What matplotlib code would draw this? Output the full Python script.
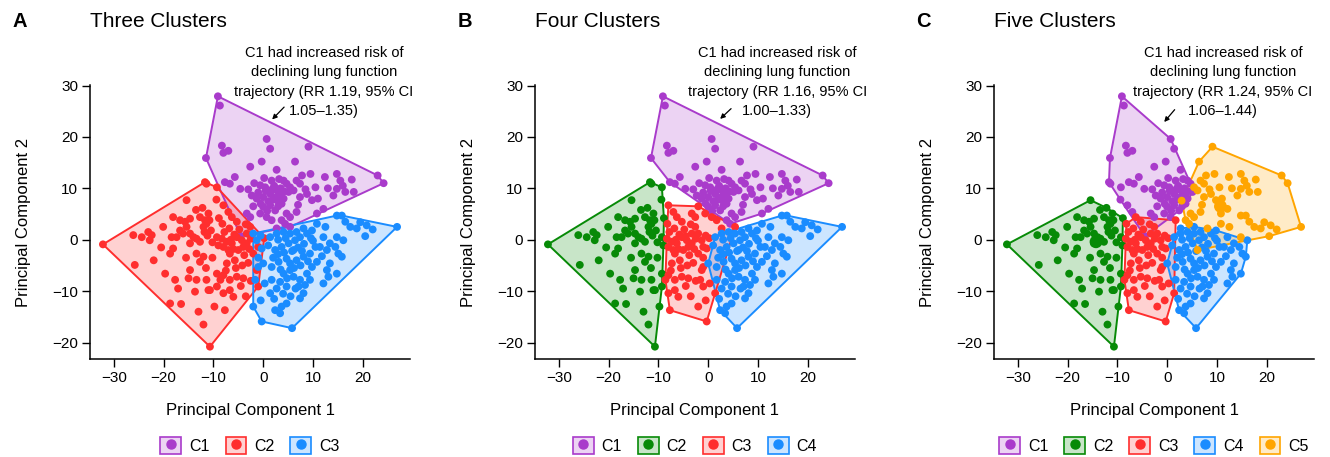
import matplotlib
matplotlib.use("Agg")
import matplotlib.pyplot as plt
from matplotlib.patches import Patch
from matplotlib.lines import Line2D
from matplotlib.legend_handler import HandlerTuple

plt.rcParams['font.family'] = ['Liberation Sans', 'DejaVu Sans']

# ---------------- data: PCA scores, grouped by cluster membership across solutions -------------
# group name letters = cluster colour in (3-, 4-, 5-cluster) solutions
PPP = [(-9.1, 27.9), (-8.7, 26.1), (-11.5, 15.9), (-8.3, 18.3), (-7.0, 17.3), (-8.0, 16.9), (0.7, 19.6),
       (1.4, 17.7), (-0.3, 15.2), (-2.6, 14.2), (2.7, 13.6), (-5.7, 12.2), (-7.7, 11.2), (-6.7, 10.9),
       (-4.6, 9.9), (-0.6, 10.6), (0.4, 10.2), (1.7, 11.5), (4.1, 11.5), (4.7, 10.9), (-2.3, 8.6),
       (-1.3, 8.0), (0.0, 8.3), (1.4, 8.9), (2.7, 9.6), (3.4, 8.6), (4.1, 8.0), (5.1, 9.3), (0.0, 6.4),
       (1.4, 6.7), (2.4, 5.7), (3.7, 7.0), (0.5, 9.5), (1.0, 7.5), (2.0, 7.8), (3.0, 6.5), (2.2, 10.5),
       (3.5, 10.0), (-1.0, 9.2), (-0.5, 7.0), (1.8, 9.8), (3.2, 11.8), (0.2, 12.0), (-1.8, 11.0),
       (2.5, 8.2), (4.2, 9.4), (-3.0, 9.8), (0.8, 5.6)]
PPO = [(9.1, 18.1), (6.4, 15.2), (12.4, 12.2), (14.8, 12.8), (15.5, 11.5), (17.8, 11.7), (23.0, 12.5),
       (24.2, 11.0), (14.8, 9.9), (16.5, 9.3), (18.2, 9.3), (14.1, 8.6), (5.4, 10.2), (6.1, 9.6),
       (6.7, 11.5), (7.4, 10.9), (7.4, 8.3), (8.8, 8.9), (9.8, 7.7), (12.1, 6.0), (10.8, 5.1), (4.7, 5.1),
       (5.4, 4.4), (6.7, 5.4), (3.7, 3.8), (4.4, 3.1), (2.9, 7.6), (7.8, 12.5), (8.5, 9.8), (10.5, 10.2),
       (9.5, 12.8), (11.0, 8.0), (16.0, 10.5), (13.0, 10.0), (7.0, 6.8)]
PRP = [(-0.6, 5.1), (0.7, 4.4), (-3.3, 5.1), (-2.6, 4.4), (-4.5, 0.7), (-2.0, 6.5)]
PRR = [(1.7, 3.8)]
PRB = [(2.7, 2.2), (5.4, 2.5)]
RGG = [(-32.2, -0.9), (-26.1, 0.9), (-24.4, 0.5), (-23.1, 1.5), (-22.4, 0.9), (-22.8, -0.1), (-25.8, -4.9),
       (-20.1, 2.5), (-19.7, -6.6), (-18.4, 0.5), (-18.1, -1.7), (-18.7, -2.7), (-17.7, -7.8), (-17.1, -9.5),
       (-18.7, -12.4), (-15.4, 7.7), (-14.7, 4.1), (-15.4, 2.5), (-16.1, 1.2), (-16.7, 1.8), (-14.7, 1.2),
       (-17.4, 0.5), (-14.7, -0.7), (-14.0, 0.5), (-13.4, 0.2), (-12.7, -0.4), (-12.0, 2.5), (-11.4, 3.1),
       (-11.0, 5.1), (-11.7, 3.8), (-12.7, 4.4), (-9.3, 0.5), (-9.0, -1.1), (-13.4, -2.7), (-12.0, -3.3),
       (-12.7, -4.3), (-14.7, -5.9), (-15.0, -7.5), (-13.4, -7.8), (-9.3, -6.6), (-11.4, -7.8),
       (-10.7, -9.8), (-9.3, -9.1), (-13.7, -10.1), (-11.0, -9.8), (-10.7, -20.8), (-18.1, 4.4),
       (-16.7, 3.8), (-15.7, 3.5), (-10.5, 1.8), (-11.2, 0.8), (-10.2, -0.5), (-11.8, 1.5), (-10.8, 3.8),
       (-12.2, 6.2), (-13.5, 5.8), (-10.2, -3.5), (-11.5, -5.5), (-15.5, -3.5), (-20.5, -1.5), (-22.0, -4.0),
       (-16.5, -12.5), (-13.0, -14.0), (-12.0, -16.5), (-8.9, 4.2), (-9.8, -13.0)]
RGP = [(-11.4, 10.9), (-11.7, 11.2), (-9.3, 10.2), (-9.4, 7.8)]
RRR = [(-6.3, 4.4), (-5.3, 3.5), (-8.3, 0.2), (-7.3, -0.4), (-6.3, -0.7), (-8.0, -1.4), (-5.3, 0.5),
       (-4.3, -0.1), (-3.3, -0.7), (-4.0, -1.4), (-5.0, -2.0), (-3.3, 1.2), (-2.6, 2.5), (-6.7, -2.7),
       (-5.7, -4.0), (-7.3, -4.6), (-8.0, -6.9), (-6.7, -7.8), (-5.3, -7.2), (-4.0, -7.5), (-8.0, -10.4),
       (-6.0, -11.1), (-6.7, -9.8), (-7.7, -13.7), (-1.0, -9.1), (-1.3, -5.9), (-2.0, -2.7), (-1.0, -1.4),
       (-8.6, -7.8), (-8.2, 3.1), (-7.8, 1.5), (-6.8, 2.2), (-5.8, 1.0), (-4.8, 2.0), (-6.0, -1.8),
       (-7.0, -2.0), (-3.8, -3.0), (-2.8, -1.8), (-5.5, -5.5), (-4.2, -5.0), (-3.0, -4.5), (-7.5, -6.0),
       (-2.5, 0.2), (-3.5, 3.0), (-6.5, 0.0), (-4.5, -9.0), (-3.5, -11.0), (-2.5, -8.0), (0.2, 0.3)]
RRP = [(-8.0, 6.7), (-7.0, 5.4)]
BRR = [(-0.3, -15.9), (-2.0, -13.0), (1.4, -10.4), (-0.3, -1.7), (-2.0, 1.2), (-1.3, -0.1), (-1.0, -5.3),
       (-1.6, -7.8), (-1.0, -3.5), (-0.5, -11.8), (0.3, -8.5), (-0.5, 0.8)]
BBB = [(16.1, -0.1), (13.4, -0.7), (12.1, 0.5), (11.4, -1.4), (12.8, -2.0), (14.5, -1.4), (15.1, -2.7),
       (15.8, -3.3), (13.4, -4.6), (14.8, -6.6), (13.1, -7.2), (12.8, -5.9), (12.1, -8.5), (7.1, -9.1),
       (8.1, -10.4), (7.4, -11.4), (5.8, -17.2), (2.4, -13.7), (3.7, -13.0), (4.7, -12.4), (3.4, -14.3),
       (2.7, -9.5), (1.7, -7.8), (3.4, -8.2), (4.7, -9.1), (6.1, -7.2), (7.4, -7.8), (8.8, -6.6), (9.8, -5.3),
       (10.8, -4.3), (5.4, -4.6), (6.7, -4.0), (8.1, -3.3), (9.4, -2.7), (10.5, -1.4), (0.0, -4.6),
       (1.7, -5.3), (3.1, -4.3), (4.7, -3.7), (1.0, -1.1), (2.4, -2.0), (3.7, -1.4), (5.1, -0.7), (6.4, -0.1),
       (7.4, 0.5), (8.8, 1.2), (9.8, 1.8), (1.4, 0.5), (2.7, 1.2), (4.1, 1.5), (5.4, 1.2), (6.7, 1.5),
       (4.1, -6.6), (5.4, -5.9), (9.4, -7.8), (8.4, -8.8), (3.0, -2.8), (4.2, -2.5), (5.8, -2.2), (7.0, -1.5),
       (8.2, -0.8), (2.0, -3.5), (6.2, -5.5), (7.5, -5.0), (9.0, -4.2), (3.5, -5.8), (4.8, -7.5), (6.5, -9.5),
       (5.5, -11.0), (2.2, -11.5), (4.0, -10.5), (10.0, -0.2), (11.8, -3.2), (3.0, 0.0), (4.5, 0.3),
       (7.8, -2.2), (9.6, 0.3)]
BBO = [(26.9, 2.5), (14.8, 4.7), (15.8, 4.7), (19.5, 3.4), (20.8, 2.8), (17.5, 2.5), (18.8, 2.2),
       (20.5, 0.7), (14.8, 0.5), (8.1, 2.2), (10.8, 3.1), (6.1, -2.0), (12.5, 2.5), (16.5, 3.5), (22.0, 2.0)]

# cluster of each group in the three solutions
membership_three = {"PPP": "C1", "PPO": "C1", "PRP": "C1", "PRR": "C1", "PRB": "C1",
                    "RGG": "C2", "RGP": "C2", "RRR": "C2", "RRP": "C2",
                    "BRR": "C3", "BBB": "C3", "BBO": "C3"}
membership_four = {"PPP": "C1", "PPO": "C1", "PRP": "C3", "PRR": "C3", "PRB": "C3",
                   "RGG": "C2", "RGP": "C2", "RRR": "C3", "RRP": "C3",
                   "BRR": "C3", "BBB": "C4", "BBO": "C4"}
membership_five = {"PPP": "C1", "PPO": "C5", "PRP": "C1", "PRR": "C3", "PRB": "C4",
                   "RGG": "C2", "RGP": "C1", "RRR": "C3", "RRP": "C1",
                   "BRR": "C3", "BBB": "C4", "BBO": "C5"}
groups = {"PPP": PPP, "PPO": PPO, "PRP": PRP, "PRR": PRR, "PRB": PRB, "RGG": RGG, "RGP": RGP,
          "RRR": RRR, "RRP": RRP, "BRR": BRR, "BBB": BBB, "BBO": BBO}

# enlarged (representative) points in the five-cluster panel
five_large_clusters = ["C2", "C5"]
five_large_x = [-14.3, 10.7]
five_large_y = [-0.4, 6.5]

panel_letters = ["A", "B", "C"]
panel_titles = ["Three Clusters", "Four Clusters", "Five Clusters"]
cluster_lists = [["C1", "C2", "C3"], ["C1", "C2", "C3", "C4"], ["C1", "C2", "C3", "C4", "C5"]]
rr_text = ["trajectory (RR 1.19, 95% CI\n1.05\u20131.35)",
           "trajectory (RR 1.16, 95% CI\n1.00\u20131.33)",
           "trajectory (RR 1.24, 95% CI\n1.06\u20131.44)"]
annot_x = [12.2, 13.9, 11.2]
arrow_start = [(4.2, 25.8), (4.6, 25.5), (1.5, 25.3)]
arrow_end = [(1.8, 23.4), (2.4, 23.5), (-0.6, 22.9)]

PURPLE, RED, BLUE, GREEN, ORANGE = "#A93BCB", "#FF2E2E", "#1A8CFF", "#078A07", "#FFA500"
colors = [{"C1": PURPLE, "C2": RED, "C3": BLUE},
          {"C1": PURPLE, "C2": GREEN, "C3": RED, "C4": BLUE},
          {"C1": PURPLE, "C2": GREEN, "C3": RED, "C4": BLUE, "C5": ORANGE}]
memberships = [membership_three, membership_four, membership_five]


def convex_hull(points):
    pts = sorted(set(points))
    if len(pts) <= 2:
        return pts

    def cross(o, a, b):
        return (a[0] - o[0]) * (b[1] - o[1]) - (a[1] - o[1]) * (b[0] - o[0])
    lower, upper = [], []
    for p in pts:
        while len(lower) >= 2 and cross(lower[-2], lower[-1], p) <= 0:
            lower.pop()
        lower.append(p)
    for p in reversed(pts):
        while len(upper) >= 2 and cross(upper[-2], upper[-1], p) <= 0:
            upper.pop()
        upper.append(p)
    return lower[:-1] + upper[:-1]


fig = plt.figure(figsize=(13.3, 4.57), dpi=100)
lefts = [90 / 1330, 535 / 1330, 994 / 1330]
FILL_ALPHA = 0.22

for i in range(3):
    ax = fig.add_axes([lefts[i], 98 / 457, 320 / 1330, 274 / 457])
    memb = memberships[i]
    cols = colors[i]
    for k, cl in enumerate(cluster_lists[i]):
        pts = []
        for g, plist in groups.items():
            if memb[g] == cl:
                pts.extend(plist)
        hull = convex_hull(pts)
        hx = [p[0] for p in hull] + [hull[0][0]]
        hy = [p[1] for p in hull] + [hull[0][1]]
        ax.fill(hx, hy, color=cols[cl], alpha=FILL_ALPHA, lw=0, zorder=1 + k * 0.01)
        ax.plot(hx, hy, color=cols[cl], lw=1.4, zorder=2, solid_joinstyle='round')
        ax.scatter([p[0] for p in pts], [p[1] for p in pts], s=32, color=cols[cl],
                   edgecolors='none', zorder=3)
    if i == 2:
        for cl, x, y in zip(five_large_clusters, five_large_x, five_large_y):
            ax.scatter([x], [y], s=85, color=cols[cl], edgecolors='none', zorder=3.5)

    ax.set_xlim(-34.8, 29.5)
    ax.set_ylim(-23.2, 30.1)
    ax.set_xticks([-30, -20, -10, 0, 10, 20])
    ax.set_yticks([-20, -10, 0, 10, 20, 30])
    for s in ["top", "right"]:
        ax.spines[s].set_visible(False)
    for s in ["left", "bottom"]:
        ax.spines[s].set_linewidth(1.1)
    ax.tick_params(length=5.5, width=1.0, labelsize=11, pad=3)
    ax.set_xlabel("Principal Component 1", fontsize=12)
    ax.set_ylabel("Principal Component 2", fontsize=12)
    ax.xaxis.set_label_coords(0.5, -0.16)
    ax.yaxis.set_label_coords(-0.184, 0.5)

    ax.text(0.0, 1.23, panel_titles[i], transform=ax.transAxes, fontsize=15, ha='left', va='center')
    ax.text(-0.243, 1.23, panel_letters[i], transform=ax.transAxes, fontsize=14.5,
            fontweight='bold', ha='left', va='center')
    ax.text(annot_x[i], 37.7, "C1 had increased risk of\ndeclining lung function\n" + rr_text[i],
            fontsize=10.5, ha='center', va='top', multialignment='center', linespacing=1.5, clip_on=False)
    ax.annotate("", xy=arrow_end[i], xytext=arrow_start[i],
                arrowprops=dict(arrowstyle='-|>', color='black', lw=0.9, mutation_scale=7,
                                shrinkA=0, shrinkB=0))

    leg_handles = []
    for cl in cluster_lists[i]:
        c = matplotlib.colors.to_rgba(cols[cl])
        face = (c[0], c[1], c[2], FILL_ALPHA)
        leg_handles.append((Patch(facecolor=face, edgecolor=cols[cl], lw=1.2),
                            Line2D([], [], marker='o', ls='', color=cols[cl], markersize=6.5)))
    ax.legend(leg_handles, cluster_lists[i], handler_map={tuple: HandlerTuple(ndivide=1, pad=0)},
              loc='center', bbox_to_anchor=(0.5, -0.315), ncol=len(cluster_lists[i]), frameon=False,
              fontsize=11.5, handlelength=1.3, handleheight=1.3, handletextpad=0.5, columnspacing=1.0,
              borderaxespad=0)

fig.savefig("out.png", dpi=100)
